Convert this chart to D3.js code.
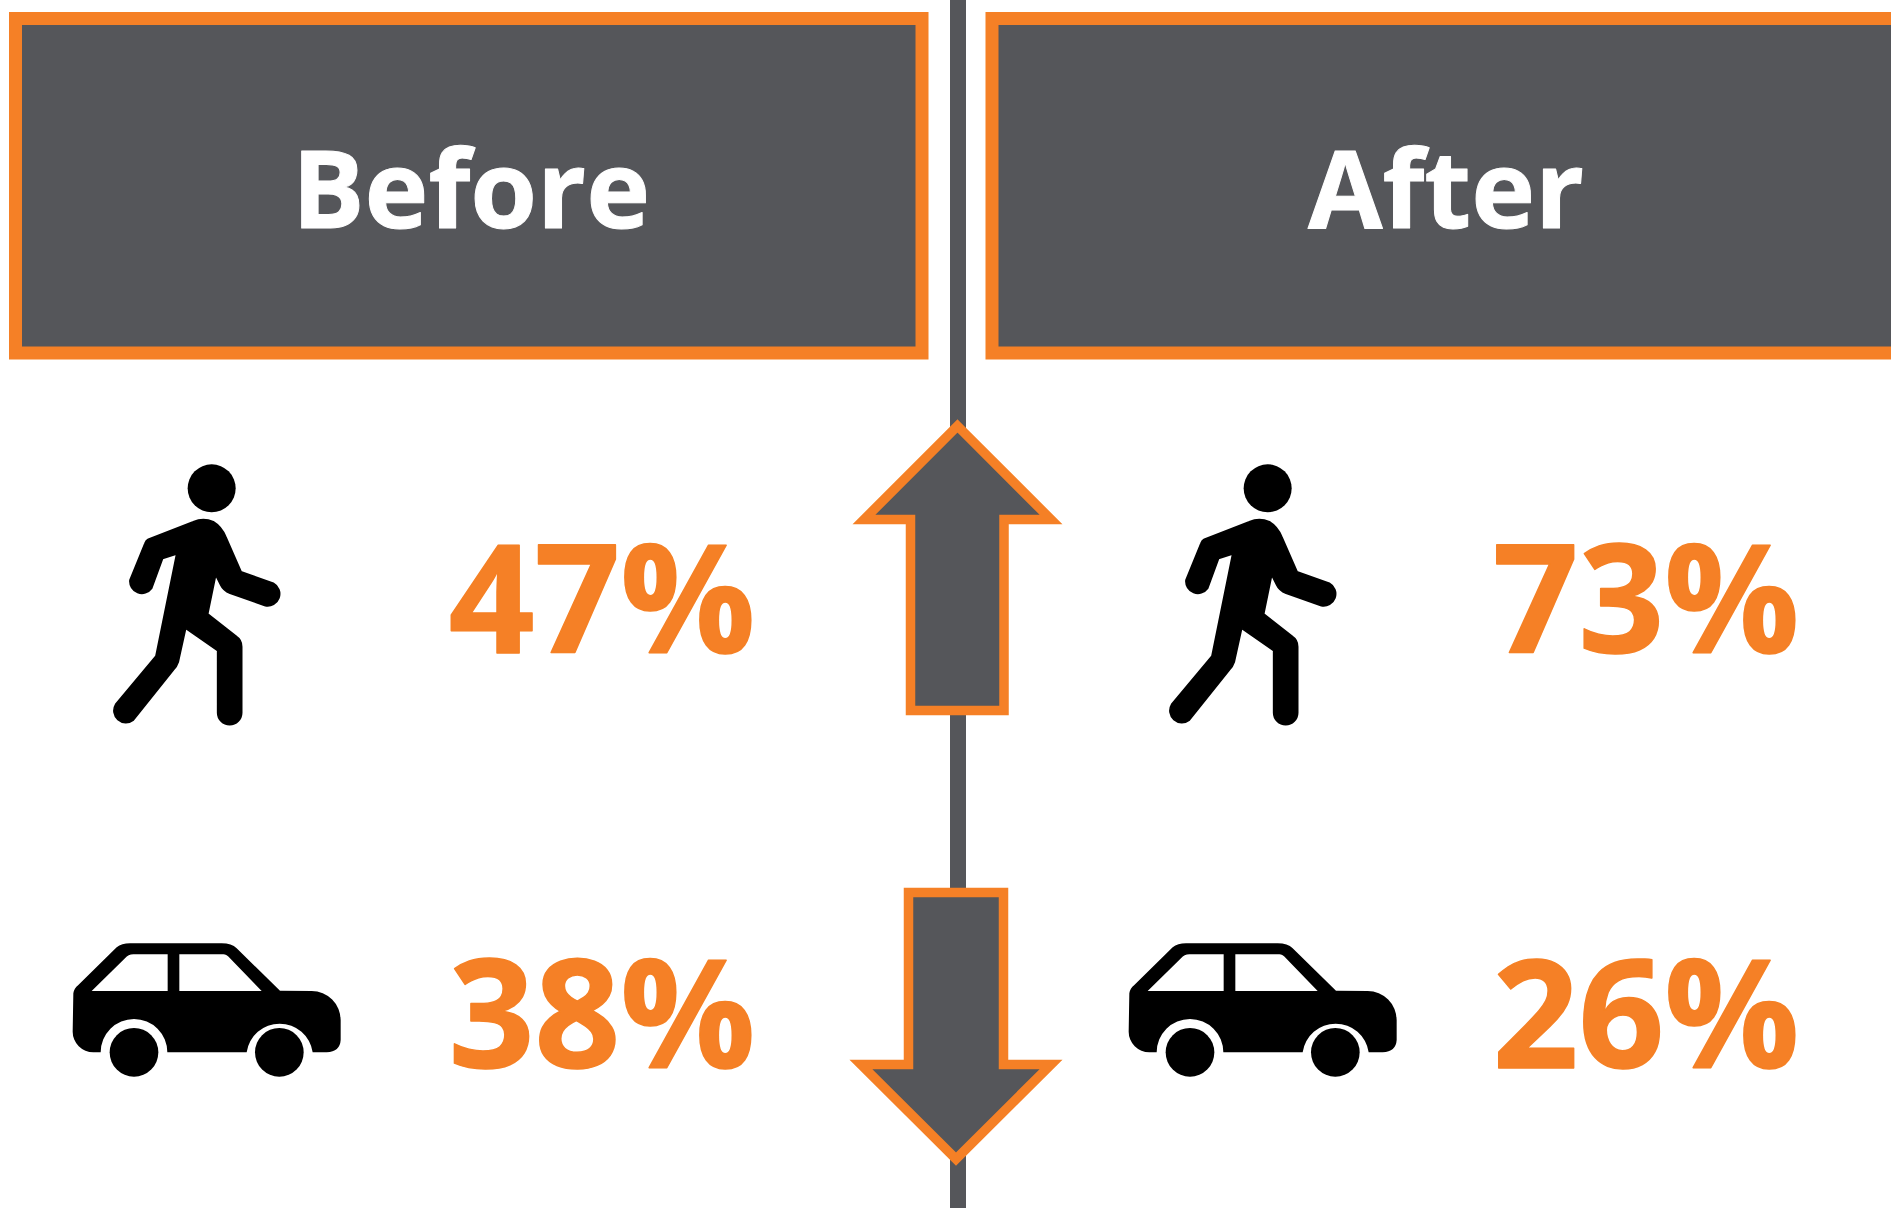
<!DOCTYPE html>
<html lang="en">

<head>
  <meta charset="UTF-8">
  <title>Before and after</title>
  <style>
    html,
    body {
      height: 100%;
      margin: 0;
      background: #fff;
    }

    svg {
      display: block;
    }
  </style>
</head>

<body>
  <svg id="chart" width="1891" height="1208"></svg>
  <script src="https://cdn.jsdelivr.net/npm/d3@7"></script>
  <script>
    // data
    var periods = ['Before', 'After']
    var modes = ['walk', 'car']
    var walkValues = [47, 73]
    var carValues = [38, 26]
    var changeDirections = ['up', 'down']

    var orange = '#f58025'
    var gray = '#55565a'
    var font = '"Open Sans", sans-serif'

    var svg = d3.select('#chart')

    // the source is a soft upscaled picture, so everything gets a slight blur
    svg.append('defs').append('filter')
      .attr('id', 'soft')
      .attr('filterUnits', 'userSpaceOnUse')
      .attr('x', -20).attr('y', -20)
      .attr('width', 1931).attr('height', 1248)
      .append('feGaussianBlur')
      .attr('stdDeviation', 0.7)

    var root = svg.append('g').attr('filter', 'url(#soft)')

    // scales
    var colX = d3.scaleOrdinal().domain(periods).range([0, 1])
    var panelX = d3.scaleLinear().domain([0, 1]).range([15.5, 992])
    var iconX = d3.scaleLinear().domain([0, 1]).range([0, 1056])
    var valueX = d3.scaleLinear().domain([0, 1]).range([602, 1646])
    var rowBase = d3.scaleOrdinal().domain(modes).range([653, 1068])

    // center line
    root.append('rect')
      .attr('x', 950)
      .attr('y', -20)
      .attr('width', 16)
      .attr('height', 1248)
      .attr('fill', gray)

    // header panels
    var header = root.selectAll('g.header')
      .data(periods)
      .join('g')
      .attr('class', 'header')

    header.append('rect')
      .attr('x', d => panelX(colX(d)))
      .attr('y', 18.5)
      .attr('width', 906.5)
      .attr('height', 334.5)
      .attr('fill', gray)
      .attr('stroke', orange)
      .attr('stroke-width', 13)

    header.append('text')
      .attr('x', d => d === 'Before' ? 471 : 1446)
      .attr('y', 227.5)
      .attr('text-anchor', 'middle')
      .attr('font-family', font)
      .attr('font-weight', 700)
      .attr('font-size', 108)
      .attr('fill', '#fff')
      .attr('stroke', '#fff')
      .attr('stroke-width', 1)
      .attr('stroke-linejoin', 'round')
      .text(d => d)

    // walker and car glyphs, drawn on a 3x grid
    var walkerPath = 'M205 298L340 245Q370 232 400 245Q425 260 437 290L483 395L580 430A36 36 0 0 1 556 497L450 460Q430 452 422 435L407 405L383 522L470 590Q485 600 485 620L485 818A36 36 0 0 1 413 818L413 632L317 565L295 665Q290 680 280 690L160 840A36 36 0 0 1 107 793L228 648L290 342L248 355L215 445A36 36 0 0 1 150 420L195 310Q198 302 205 298Z'
    var carPath = 'M70 250Q72 235 85 225L200 112Q215 100 240 100L515 100Q545 100 560 115L690 242L785 243A87 87 0 0 1 872 330L872 390Q870 425 830 427L788 427A100 100 0 0 0 590 427L352 427A100 100 0 0 0 152 427L130 427A62 62 0 0 1 68 365Z' +
      'M125 243L225 145Q235 133 250 133L353 133L353 243Z' +
      'M388 133L520 133Q530 133 540 145L635 243L388 243Z'

    var defs = svg.append('defs')
    var walker = defs.append('g').attr('id', 'walker')
    walker.append('circle').attr('cx', 395).attr('cy', 145).attr('r', 72)
    walker.append('path').attr('d', walkerPath)
      .attr('stroke', '#000')
      .attr('stroke-width', 5)
      .attr('stroke-linejoin', 'round')

    var car = defs.append('g').attr('id', 'car')
    car.append('path').attr('d', carPath).attr('fill-rule', 'evenodd')
    car.append('circle').attr('cx', 252).attr('cy', 427).attr('r', 73)
    car.append('circle').attr('cx', 688).attr('cy', 427).attr('r', 73)

    root.selectAll('use.walker')
      .data(periods)
      .join('use')
      .attr('class', 'walker')
      .attr('href', '#walker')
      .attr('transform', d => `translate(${80 + iconX(colX(d))},440) scale(${1 / 3})`)

    root.selectAll('use.car')
      .data(periods)
      .join('use')
      .attr('class', 'car')
      .attr('href', '#car')
      .attr('transform', d => `translate(${50 + iconX(colX(d))},910) scale(${1 / 3})`)

    // percentages
    var rows = [
      { mode: 'walk', values: walkValues },
      { mode: 'car', values: carValues }
    ]

    rows.forEach(function (row) {
      root.selectAll('text.v-' + row.mode)
        .data(row.values)
        .join('text')
        .attr('class', 'v-' + row.mode)
        .attr('x', (d, i) => valueX(i))
        .attr('y', rowBase(row.mode))
        .attr('text-anchor', 'middle')
        .attr('font-family', font)
        .attr('font-weight', 700)
        .attr('font-size', 150)
        .attr('fill', orange)
        .attr('stroke', orange)
        .attr('stroke-width', 1.5)
        .attr('stroke-linejoin', 'round')
        .text(d => d + '%')
    })

    // change arrows
    var arrowShape = {
      up: [[957.5, 426], [1051, 519.5], [1004, 519.5], [1004, 710.5], [910.5, 710.5], [910.5, 519.5], [864, 519.5]],
      down: [[908.5, 892.5], [1003.5, 892.5], [1003.5, 1064.5], [1051, 1064.5], [956, 1159], [861, 1064.5], [908.5, 1064.5]]
    }
    var arrowLine = d3.line().curve(d3.curveLinearClosed)

    root.selectAll('path.arrow')
      .data(changeDirections)
      .join('path')
      .attr('class', 'arrow')
      .attr('d', d => arrowLine(arrowShape[d]))
      .attr('fill', gray)
      .attr('stroke', orange)
      .attr('stroke-width', 9.5)
      .attr('stroke-miterlimit', 10)
  </script>
</body>

</html>
